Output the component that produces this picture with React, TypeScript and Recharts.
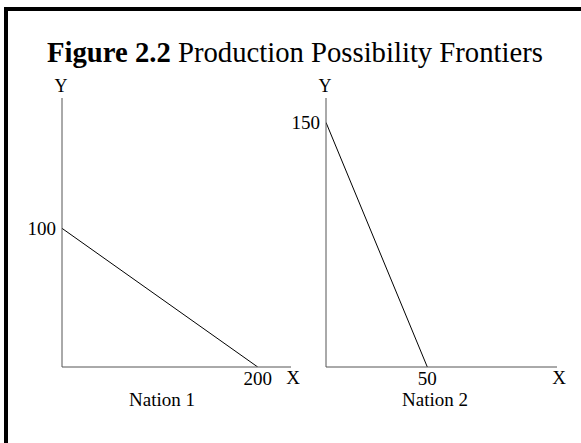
import React from "react";
import { LineChart, Line, XAxis, YAxis, Label } from "recharts";

const nation1Frontier = [
  { x: 0, y: 100 },
  { x: 200, y: 0 },
];
const nation2Frontier = [
  { x: 0, y: 150 },
  { x: 50, y: 0 },
];
const nation1XTicks = [200];
const nation1YTicks = [100];
const nation2XTicks = [50];
const nation2YTicks = [150];
const nation1Domain = { x: [0, 234], y: [0, 194] };
const nation2Domain = { x: [0, 114], y: [0, 165] };
const titleBold = "Figure 2.2";
const titleRest = " Production Possibility Frontiers";
const nationNames = ["Nation 1", "Nation 2"];

const FONT = "'Liberation Serif', 'Times New Roman', serif";
const AXIS = "#555";

const tickStyle = { fill: "#000", fontSize: 19, fontFamily: FONT };

function XLabel({ viewBox, caption, captionOffset }: any) {
  const { x, y, width } = viewBox;
  return (
    <g>
      <text x={x + width + 2} y={y + 16.5} textAnchor="middle" fontSize={19} fontFamily={FONT} fill="#000">
        X
      </text>
      <text x={x + captionOffset} y={y + 39} textAnchor="middle" fontSize={19} fontFamily={FONT} fill="#000">
        {caption}
      </text>
    </g>
  );
}

function YLabel({ viewBox }: any) {
  const { x, y, width } = viewBox;
  return (
    <text x={x + width - 1} y={y - 6} textAnchor="middle" fontSize={18} fontFamily={FONT} fill="#000">
      Y
    </text>
  );
}

function Frontier({ data, xDomain, yDomain, xTicks, yTicks, width, caption, captionOffset, marginRight }: any) {
  return (
    <LineChart
      width={width}
      height={443}
      data={data}
      margin={{ top: 98, right: marginRight, bottom: 46, left: 0 }}
    >
      <XAxis
        type="number"
        dataKey="x"
        domain={xDomain}
        ticks={xTicks}
        allowDataOverflow
        height={30}
        tickLine={false}
        tickSize={4}
        tickMargin={1}
        axisLine={{ stroke: AXIS, strokeWidth: 1 }}
        tick={tickStyle}
        label={<Label content={(p: any) => <XLabel {...p} caption={caption} captionOffset={captionOffset} />} />}
      />
      <YAxis
        type="number"
        dataKey="y"
        domain={yDomain}
        ticks={yTicks}
        allowDataOverflow
        width={62}
        tickLine={false}
        tickSize={4}
        tickMargin={2}
        axisLine={{ stroke: AXIS, strokeWidth: 1 }}
        tick={tickStyle}
        label={<Label content={(p: any) => <YLabel {...p} />} />}
      />
      <Line
        type="linear"
        dataKey="y"
        stroke="#000"
        strokeWidth={1}
        dot={false}
        isAnimationActive={false}
      />
    </LineChart>
  );
}

export default function App() {
  return (
    <div style={{ position: "absolute", left: 0, top: 0, width: 581, height: 443, background: "#fff", overflow: "hidden" }}>
      <div
        style={{
          position: "absolute",
          left: 4,
          top: 7,
          width: 577,
          height: 436,
          borderTop: "4px solid #000",
          borderLeft: "4px solid #000",
          boxSizing: "border-box",
        }}
      />
      <div
        style={{
          position: "absolute",
          left: 47,
          top: 36,
          fontFamily: FONT,
          fontSize: 28.7,
          lineHeight: "32px",
          color: "#000",
          whiteSpace: "nowrap",
        }}
      >
        <b>{titleBold}</b>
        {titleRest}
      </div>
      <div style={{ position: "absolute", left: 0, top: 0 }}>
        <Frontier
          data={nation1Frontier}
          xDomain={nation1Domain.x}
          yDomain={nation1Domain.y}
          xTicks={nation1XTicks}
          yTicks={nation1YTicks}
          width={300}
          marginRight={9}
          caption={nationNames[0]}
          captionOffset={100}
        />
      </div>
      <div style={{ position: "absolute", left: 264, top: 0 }}>
        <Frontier
          data={nation2Frontier}
          xDomain={nation2Domain.x}
          yDomain={nation2Domain.y}
          xTicks={nation2XTicks}
          yTicks={nation2YTicks}
          width={317}
          marginRight={24}
          caption={nationNames[1]}
          captionOffset={109}
        />
      </div>
    </div>
  );
}
